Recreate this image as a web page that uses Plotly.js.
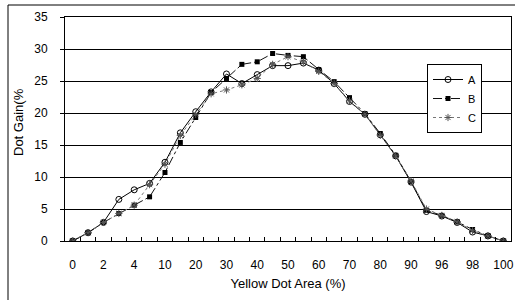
<!DOCTYPE html>
<html>
<head>
<meta charset="utf-8">
<script src="https://cdn.plot.ly/plotly-3.0.1.min.js"></script>
<style>html,body{margin:0;padding:0;background:#fff;}#chart{width:515px;height:300px;}</style>
</head>
<body>
<div id="chart"></div>
<script>
const categories = ["0","1","2","3","4","6","10","15","20","25","30","35","40","45","50","55","60","65","70","75","80","85","90","94","96","97","98","99","100"];
const tickLabels = ["0","2","4","10","20","30","40","50","60","70","80","90","96","98","100"];
const seriesA = [0,1.3,2.9,6.5,8.0,9.0,12.3,16.9,20.2,23.3,26.1,24.6,26.0,27.4,27.4,27.8,26.7,24.6,21.8,19.8,16.6,13.3,9.2,4.6,3.9,2.9,1.4,0.8,0];
const seriesB = [0,1.3,2.9,4.3,5.6,6.9,10.7,15.4,19.3,23.2,25.4,27.6,28.0,29.3,29.0,28.8,26.8,24.9,22.4,19.9,16.8,13.4,9.3,4.8,4.0,3.0,1.8,0.8,0];
const seriesC = [0,1.3,2.9,4.3,5.6,8.8,12.0,16.5,19.8,23.0,23.6,24.4,25.4,27.6,28.8,28.0,26.5,24.6,21.9,19.8,16.5,13.3,9.4,5.0,4.0,3.0,1.6,0.8,0];
const seriesNames = ["A","B","C"];

const traces = [
  {x: categories, y: seriesA, name: seriesNames[0], type: "scatter", mode: "lines+markers",
   line: {color: "#000", width: 1}, marker: {symbol: "circle-open", size: 6, color: "#000", line: {width: 1}}},
  {x: categories, y: seriesB, name: seriesNames[1], type: "scatter", mode: "lines+markers",
   line: {color: "#111", width: 1, dash: "dashdot"}, marker: {symbol: "square", size: 5, color: "#000"}},
  {x: categories, y: seriesC, name: seriesNames[2], type: "scatter", mode: "lines+markers",
   line: {color: "#777", width: 1, dash: "dot"}, marker: {symbol: "asterisk-open", size: 6, color: "#555", line: {width: 1, color: "#555"}}}
];

const L = 65, R = 511, T = 17, B = 241;
const W = 515, H = 300;
const pw = R - L, ph = B - T;
const px = v => (v - L) / pw;
const py = v => (B - v) / ph;

const layout = {
  width: W, height: H,
  margin: {l: L, r: W - R, t: T, b: H - B, pad: 0},
  paper_bgcolor: "#fff", plot_bgcolor: "#fff",
  font: {family: "Liberation Sans, Arial, sans-serif", size: 12, color: "#000"},
  showlegend: true,
  legend: {x: px(482), y: py(64), xanchor: "right", yanchor: "top",
           bgcolor: "#fff", bordercolor: "#000", borderwidth: 1,
           font: {size: 11}, itemwidth: 30, tracegroupgap: 0},
  xaxis: {type: "category", categoryorder: "array", categoryarray: categories,
          range: [-0.5, categories.length - 0.5], autorange: false,
          tickmode: "array", tickvals: categories,
          ticktext: categories.map(c => tickLabels.includes(c) ? c : ""),
          tickangle: 0, automargin: false,
          tickson: "boundaries", ticks: "inside", ticklen: 4, tickcolor: "#000",
          showgrid: false, zeroline: false, showline: true, linecolor: "#000", linewidth: 1, mirror: true,
          ticklabelstandoff: 13, tickfont: {size: 12},
          title: {text: "Yellow Dot Area (%)", font: {size: 13}, standoff: 7}},
  yaxis: {range: [0, 35], autorange: false, dtick: 5, tick0: 0, ticks: "outside", ticklen: 4, tickcolor: "#000",
          showgrid: true, gridcolor: "#000", gridwidth: 1, zeroline: false, automargin: false,
          showline: true, linecolor: "#000", linewidth: 1, mirror: true,
          ticklabelstandoff: 10, tickfont: {size: 12}},
  annotations: [
    {text: "Dot Gain(%", xref: "paper", yref: "paper", x: px(18), y: py(122),
     xanchor: "center", yanchor: "middle", textangle: -90, showarrow: false, font: {size: 13}}
  ],
  shapes: [
    {type: "line", xref: "paper", yref: "paper", x0: px(8), x1: px(8), y0: py(300), y1: py(5), line: {color: "#000", width: 1}},
    {type: "line", xref: "paper", yref: "paper", x0: px(8), x1: px(515), y0: py(5), y1: py(5), line: {color: "#000", width: 1}}
  ]
};

Plotly.newPlot("chart", traces, layout, {staticPlot: true, displayModeBar: false});
</script>
</body>
</html>
